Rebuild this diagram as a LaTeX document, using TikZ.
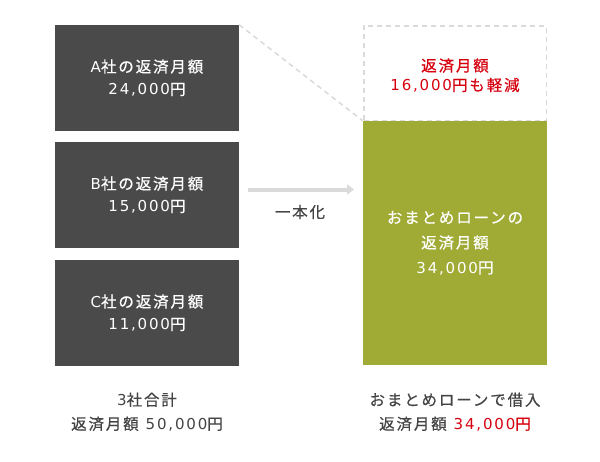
\documentclass[tikz,border=0pt]{standalone}
\usepackage{fontspec}
\setmainfont{Noto Sans CJK JP}[LetterSpace=12,FakeBold=0.4]
\newfontfamily\numfont{DejaVu Sans}[LetterSpace=12,Scale=0.97]
\newcommand{\yen}[1]{{\numfont #1}}
\usetikzlibrary{arrows.meta}
\definecolor{boxgray}{HTML}{4A4A4A}
\definecolor{olive}{HTML}{A0AB36}
\definecolor{accent}{HTML}{D7000F}
\definecolor{txtgray}{HTML}{444444}
\definecolor{lightgray}{HTML}{DADADA}
\begin{document}
\begin{tikzpicture}[x=1pt,y=-1pt,
  company/.style={fill=boxgray,text=white,minimum width=184pt,minimum height=106pt,inner sep=0pt,align=center,font=\fontsize{15.5}{22.5}\selectfont},
  loanbox/.style={fill=olive,text=white,minimum width=184pt,minimum height=244pt,inner sep=0pt,align=center,font=\fontsize{15.5}{25}\selectfont},
  savebox/.style={draw=lightgray,dashed,dash pattern=on 5pt off 4pt,line width=1.5pt,minimum width=182.5pt,minimum height=94.5pt,inner sep=0pt},
  savetext/.style={align=center,text=accent,inner sep=0pt,font=\fontsize{15.5}{19.5}\selectfont},
  caption/.style={text=txtgray,align=center,font=\fontsize{15.5}{24}\selectfont,inner sep=0pt},
  guide/.style={draw=lightgray,dashed,dash pattern=on 5pt off 4pt,line width=1.5pt}
]
\useasboundingbox (0,0) rectangle (600,461);
\fill[white] (0,0) rectangle (600,461);
\node[company] (A) at (147,78) {{\numfont A}社の返済月額\\\yen{24,000}円};
\node[company] (B) at (147,195) {{\numfont B}社の返済月額\\\yen{15,000}円};
\node[company] (C) at (147,313) {{\numfont C}社の返済月額\\\yen{11,000}円};
\node[savebox] (S) at (455,73) {};
\node[savetext] (St) at (455,75.5) {返済月額\\\yen{16,000}円も軽減};
\node[loanbox] (G) at (455,243) {おまとめローンの\\返済月額\\\yen{34,000}円};
\draw[guide] (A.north east) -- (G.north west);
\coordinate (arrS) at (248,189.5);
\coordinate (arrE) at (354,189.5);
\draw[draw=lightgray,line width=4pt,-{Triangle[length=7pt,width=10pt]}] (arrS) -- (arrE);
\node[text=txtgray,font=\fontsize{15.5}{18}\selectfont,inner sep=0pt] (L) at (300,212) {一本化};
\node[caption] (T1) at (147,412) {\yen{3}社合計\\返済月額\hspace{7pt}\yen{50,000}円};
\node[caption] (T2) at (455,412) {おまとめローンで借入\\返済月額\hspace{7pt}\textcolor{accent}{\yen{34,000}円}};
\end{tikzpicture}
\end{document}
